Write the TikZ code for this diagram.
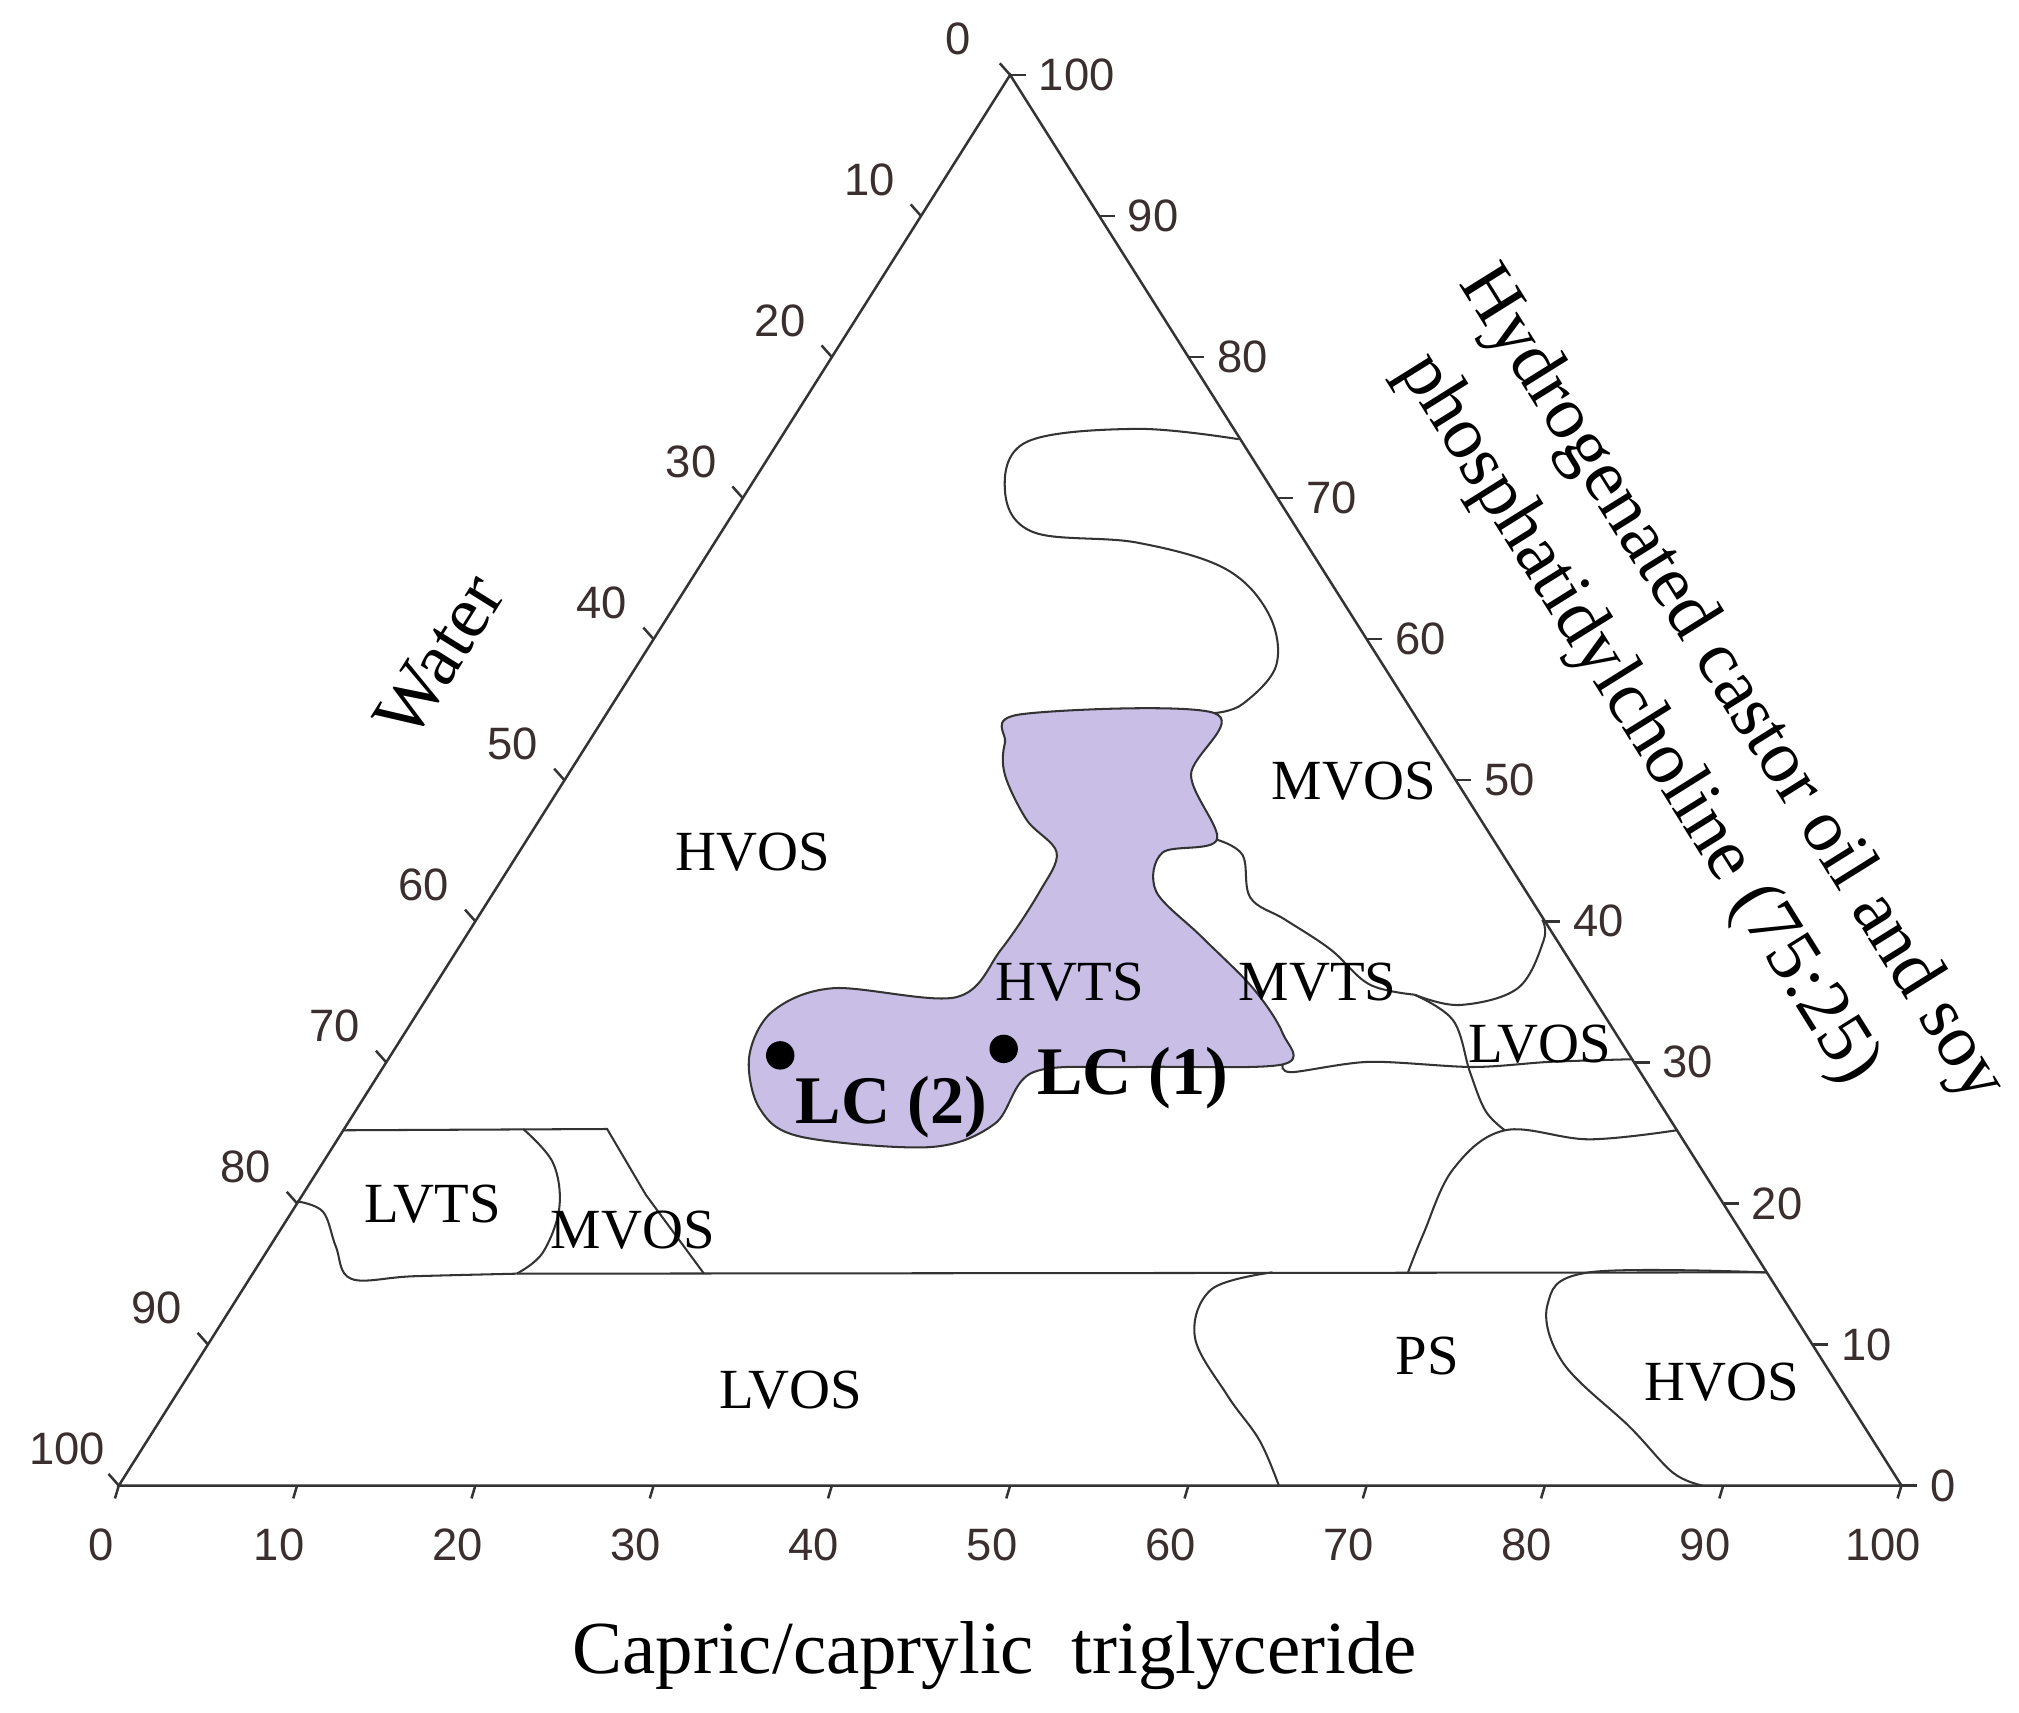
\documentclass[tikz,border=0pt]{standalone}
\usepackage{fontspec}
\setmainfont{Liberation Serif}
\newfontfamily\tickf{Liberation Sans}
\definecolor{lav}{HTML}{C9BFE6}
\definecolor{tick}{HTML}{3A2E2E}
\begin{document}
\begin{tikzpicture}[x=0.02cm,y=-0.02cm,
  bd/.style={line width=1.1pt,black!80},
  reg/.style={line width=0.9pt,black!80},
  tl/.style={font=\tickf\fontsize{20}{20}\selectfont,text=tick},
  lab/.style={font=\fontsize{25}{25}\selectfont},
  ttl/.style={font=\fontsize{33}{33}\selectfont}]
\useasboundingbox (0,0) rectangle (1563,1326);
\coordinate (A) at (92,1150); \coordinate (B) at (1472,1150); \coordinate (C) at (782,58);
% purple region
\fill[lav,draw=black!80,line width=0.9pt] plot[smooth cycle,tension=0.55] coordinates {
 (790,553) (940,552) (922,600) (942,650) (900,660) (895,690) (930,725) (970,765) (993,800) (993,824)
 (880,826) (800,830) (770,870) (720,888) (620,880) (588,858) (580,818) (598,783) (645,765) (740,772)
 (775,735) (805,690) (818,660) (795,635) (778,600) (778,575)};
% triangle
\draw[bd] (A) -- (B) -- (C) -- cycle;
% ticks and labels
\foreach \i in {0,...,10}{
  \pgfmathsetmacro\lx{782-69*\i} \pgfmathsetmacro\ly{58+109.2*\i}
  \draw[bd] (\lx,\ly) -- ++(-8,-9);
  \pgfmathtruncatemacro\v{10*\i}
  \node[tl] at (\lx-40,\ly-28) {\v};
  \pgfmathsetmacro\rx{782+69*\i}
  \draw[bd] (\rx,\ly) -- ++(12,0);
  \pgfmathtruncatemacro\w{100-10*\i}
  \node[tl,anchor=west] at (\rx+16,\ly) {\w};
  \pgfmathsetmacro\bx{92+138*\i}
  \draw[bd] (\bx,1150) -- ++(-3,10);
  \node[tl] at (\bx-14,1196) {\v};
}
% lower-left regions
\draw[reg] (265,875) -- (470,874) -- (500,925) -- (545,986);
\draw[reg] plot[smooth,tension=0.6] coordinates {(405,874) (428,900) (433,935) (420,970) (400,986)};
\draw[reg] plot[smooth,tension=0.6] coordinates {(230,930) (250,938) (260,965) (272,990) (320,988) (400,986)};
\draw[reg] (400,986) -- (1367,985);
% PS
\draw[reg] plot[smooth,tension=0.6] coordinates {(985,985) (938,998) (925,1035) (950,1080) (975,1115) (990,1150)};
% lower right HVOS
\draw[reg] plot[smooth,tension=0.6] coordinates {(1367,985) (1230,985) (1198,1010) (1210,1055) (1262,1105) (1295,1140) (1318,1150)};
% line from right edge at 875
\draw[reg] plot[smooth,tension=0.6] coordinates {(1298,875) (1230,882) (1165,875) (1125,905) (1102,955) (1090,985)};
% LVOS upper
\draw[reg] plot[smooth,tension=0.5] coordinates {(993,824) (1000,830) (1060,822) (1140,826) (1200,822) (1263,820)};
\draw[reg] plot[smooth,tension=0.6] coordinates {(1095,770) (1125,790) (1138,830) (1150,860) (1165,875)};
\draw[reg] plot[smooth,tension=0.6] coordinates {(1095,770) (1130,778) (1175,765) (1195,728) (1194,712)};
% MVTS upper boundary
\draw[reg] plot[smooth,tension=0.6] coordinates {(942,650) (962,662) (968,695) (995,712) (1030,735) (1060,762) (1095,770)};
% upper curve
\draw[reg] plot[smooth,tension=0.6] coordinates {(959,340) (880,332) (795,342) (778,380) (800,412) (880,420) (948,440) (982,475) (988,515) (962,545) (940,552)};
% dots
\fill (604,817) circle (11); \fill (777,812) circle (11);
% labels
\node[lab] at (583,660) {HVOS};
\node[lab] at (1048,605) {MVOS};
\node[lab] at (828,760) {HVTS};
\node[lab] at (1020,760) {MVTS};
\node[lab] at (1192,808) {LVOS};
\node[lab,font=\bfseries\fontsize{30}{30}\selectfont] at (690,857) {LC (2)};
\node[lab,font=\bfseries\fontsize{30}{30}\selectfont] at (877,835) {LC (1)};
\node[lab] at (335,932) {LVTS};
\node[lab] at (490,952) {MVOS};
\node[lab] at (612,1076) {LVOS};
\node[lab] at (1105,1050) {PS};
\node[lab] at (1333,1070) {HVOS};
\node[ttl,rotate=58] at (340,508) {Water};
\node[ttl,rotate=-58] at (1340,530) {Hydrogenated castor oil and soy};
\node[ttl,rotate=-58] at (1268,557) {phosphatidylcholine (75:25)};
\node[ttl,font=\fontsize{33}{33}\selectfont] at (770,1282) {Capric/caprylic \ triglyceride};
\end{tikzpicture}
\end{document}
